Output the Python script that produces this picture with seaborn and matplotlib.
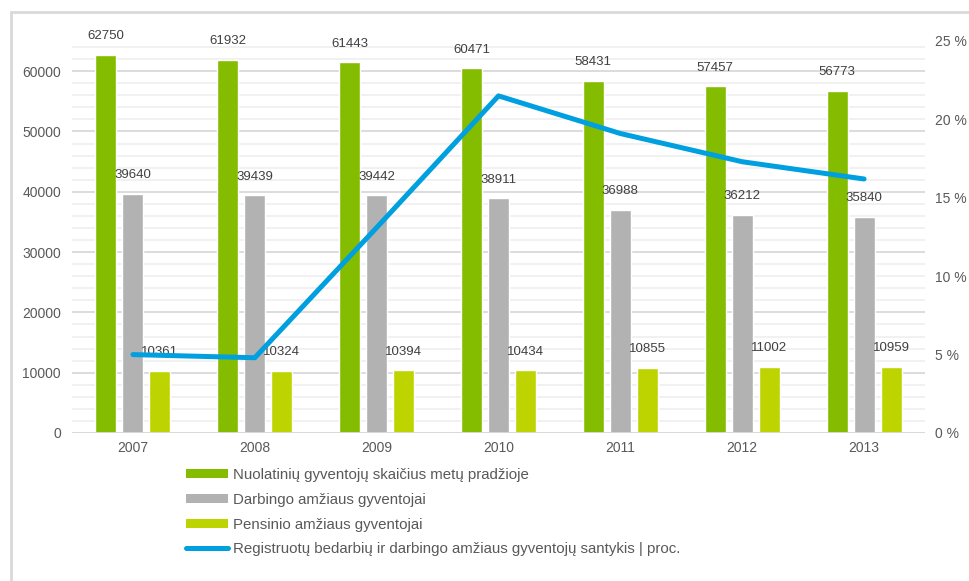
import numpy as np
import pandas as pd
import matplotlib
matplotlib.use('Agg')
import matplotlib.pyplot as plt
import seaborn as sns
from matplotlib.lines import Line2D
from matplotlib.patches import Patch

# duomenys
years = ['2007', '2008', '2009', '2010', '2011', '2012', '2013']
nuolatiniai = [62750, 61932, 61443, 60471, 58431, 57457, 56773]
darbingo = [39640, 39439, 39442, 38911, 36988, 36212, 35840]
pensinio = [10361, 10324, 10394, 10434, 10855, 11002, 10959]
santykis = [5.0, 4.8, 13.1, 21.5, 19.1, 17.3, 16.2]

series = ['Nuolatinių gyventojų skaičius metų pradžioje',
          'Darbingo amžiaus gyventojai',
          'Pensinio amžiaus gyventojai']
line_label = 'Registruotų bedarbių ir darbingo amžiaus gyventojų santykis | proc.'
colors = ['#84BC00', '#B2B2B2', '#BDD400']
blue = '#009FDF'
txt = '#595959'

sns.set_style('white')
plt.rcParams['font.family'] = ['Liberation Sans', 'DejaVu Sans']

df = pd.DataFrame({
    'metai': years * 3,
    'reiksme': nuolatiniai + darbingo + pensinio,
    'serija': [s for s in series for _ in years],
})

fig = plt.figure(figsize=(9.69, 5.81), dpi=100)
ax = fig.add_axes([72 / 969, 1 - 433 / 581, 853 / 969, 392 / 581])

sns.barplot(data=df, x='metai', y='reiksme', hue='serija', hue_order=series,
            palette=colors, width=0.665, gap=0.225, saturation=1,
            legend=False, ax=ax, zorder=3)

for cont in ax.containers:
    ax.bar_label(cont, padding=9, fontsize=9.5, color='#404040')

ax.set_xlim(-0.5, 6.5)
ax.set_ylim(0, 65000)
ax.set_yticks(np.arange(0, 60001, 10000))
# smulkus tinklelis kas 2000, be papildomų žymų
for v in np.arange(2000, 65001, 2000):
    if v % 10000:
        ax.axhline(v, color='#F0F0F0', lw=1.3, zorder=0)
ax.grid(axis='y', which='major', color='#D9D9D9', lw=1.3, zorder=0)
ax.set_axisbelow(True)
ax.set_xlabel('')
ax.set_ylabel('')
for s in ax.spines.values():
    s.set_visible(False)
ax.axhline(0, color='#D9D9D9', lw=2, zorder=4)
ax.tick_params(axis='both', length=0, labelsize=10, labelcolor=txt)
ax.tick_params(axis='y', pad=8)
ax.tick_params(axis='x', pad=6)

# antra ašis procentams
ax2 = ax.twinx()
sns.lineplot(x=np.arange(len(years)), y=santykis, color=blue, lw=3.6,
             solid_capstyle='round', ax=ax2, zorder=5)
ax2.set_ylim(0, 25)
ax2.set_yticks(np.arange(0, 26, 5))
ax2.set_yticklabels([f'{v} %' for v in range(0, 26, 5)])
ax2.tick_params(axis='y', length=0, labelsize=10, labelcolor=txt, pad=7)
for s in ax2.spines.values():
    s.set_visible(False)
ax2.set_xlim(-0.5, 6.5)

# legenda
handles = [Patch(facecolor=c, edgecolor='none') for c in colors]
handles.append(Line2D([0], [0], color=blue, lw=3.6, solid_capstyle='round'))
fig.legend(handles, series + [line_label], loc='upper left',
           bbox_to_anchor=(180 / 969, 1 - 462 / 581), frameon=False,
           fontsize=10.8, labelcolor=txt, handlelength=2.8, handleheight=0.6,
           handletextpad=0.35, labelspacing=0.72, borderaxespad=0)

# rėmelis
fig.add_artist(Line2D([11 / 969, 11 / 969], [0, 1 - 12 / 581],
                      color='#D9D9D9', lw=2, transform=fig.transFigure))
fig.add_artist(Line2D([11 / 969, 1], [1 - 12 / 581, 1 - 12 / 581],
                      color='#D9D9D9', lw=2, transform=fig.transFigure))

fig.savefig('out.png', dpi=100)
